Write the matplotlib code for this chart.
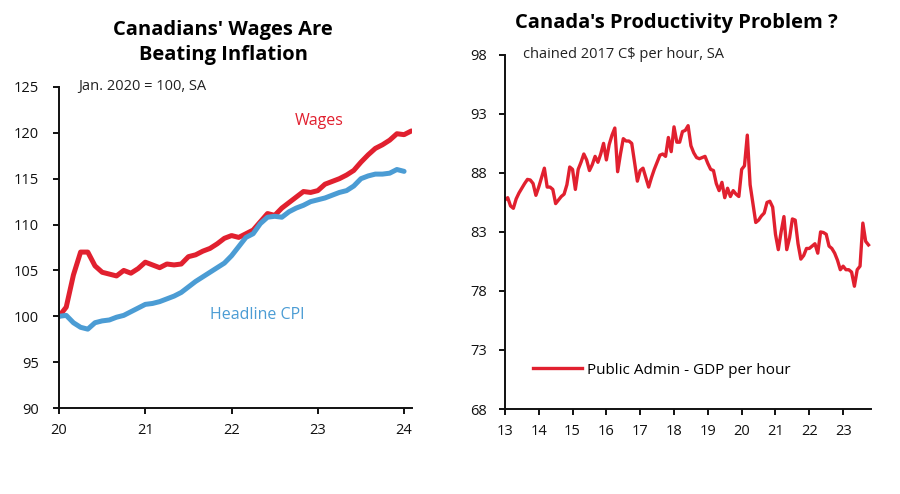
import numpy as np
import matplotlib
matplotlib.use("Agg")
import matplotlib.pyplot as plt

plt.rcParams['font.family'] = ['Open Sans', 'DejaVu Sans']

# left chart: monthly, Jan 2020 = 100
wages = [100.0, 101.0, 104.5, 107.0, 107.0, 105.5, 104.8, 104.6, 104.4, 105.0,
         104.7, 105.2, 105.9, 105.6, 105.3, 105.7, 105.6, 105.7, 106.5, 106.7,
         107.1, 107.4, 107.9, 108.5, 108.8, 108.6, 109.0, 109.4, 110.3, 111.2,
         111.0, 111.8, 112.4, 113.0, 113.6, 113.5, 113.7, 114.4, 114.7, 115.0,
         115.4, 115.9, 116.8, 117.6, 118.3, 118.7, 119.2, 119.9, 119.8, 120.2]
cpi = [100.0, 100.1, 99.3, 98.8, 98.6, 99.3, 99.5, 99.6, 99.9, 100.1,
       100.5, 100.9, 101.3, 101.4, 101.6, 101.9, 102.2, 102.6, 103.2, 103.8,
       104.3, 104.8, 105.3, 105.8, 106.6, 107.6, 108.6, 109.0, 110.1, 110.8,
       110.9, 110.8, 111.4, 111.8, 112.1, 112.5, 112.7, 112.9, 113.2, 113.5,
       113.7, 114.2, 115.0, 115.3, 115.5, 115.5, 115.6, 116.0, 115.8]
left_start = 20
left_xticks = [20, 21, 22, 23, 24]
left_yticks = [90, 95, 100, 105, 110, 115, 120, 125]

# right chart: public admin GDP per hour, monthly from Jan 2013
gdp_hour = [85.7, 85.9, 85.2, 85.0, 85.8, 86.3, 86.7, 87.1, 87.45, 87.4, 87.1, 86.1,
            86.8, 87.6, 88.4, 86.8, 86.8, 86.6, 85.4, 85.7, 86.0, 86.2, 87.0, 88.5,
            88.3, 86.6, 88.3, 88.9, 89.6, 89.1, 88.2, 88.7, 89.4, 88.9, 89.6, 90.5,
            89.1, 90.4, 91.2, 91.8, 88.1, 89.6, 90.9, 90.7, 90.7, 90.5, 88.9, 87.3,
            88.2, 88.4, 87.6, 86.8, 87.6, 88.3, 88.9, 89.5, 89.6, 89.4, 91.0, 89.8,
            91.9, 90.6, 90.6, 91.5, 91.6, 92.0, 90.3, 89.7, 89.3, 89.2, 89.3, 89.4,
            88.8, 88.3, 88.2, 87.1, 86.5, 87.2, 85.9, 86.7, 86.0, 86.5, 86.2, 86.0,
            88.3, 88.6, 91.2, 87.0, 85.4, 83.8, 84.0, 84.35, 84.6, 85.5, 85.6, 85.1,
            82.8, 81.5, 83.0, 84.3, 81.5, 82.5, 84.1, 84.0, 82.0, 80.7, 81.0, 81.6,
            81.6, 81.8, 82.0, 81.2, 83.0, 82.95, 82.8, 81.8, 81.6, 81.2, 80.6, 79.8,
            80.1, 79.8, 79.8, 79.6, 78.4, 79.8, 80.1, 83.75, 82.2, 81.9]
right_start = 13
right_xticks = list(range(13, 24))
right_yticks = [68, 73, 78, 83, 88, 93, 98]

red = '#e1202f'
blue = '#4b9cd4'

x_w = left_start + np.arange(len(wages)) / 12
x_c = left_start + np.arange(len(cpi)) / 12
x_g = right_start + np.arange(len(gdp_hour)) / 12

fig = plt.figure(figsize=(9, 4.94), dpi=100)
ax1 = fig.add_axes([0.0656, 0.174, 0.392, 0.650])
ax2 = fig.add_axes([0.561, 0.172, 0.407, 0.717])


def style(ax, ypad):
    for s in ['top', 'right']:
        ax.spines[s].set_visible(False)
    for s in ['left', 'bottom']:
        ax.spines[s].set_linewidth(1.4)
        ax.spines[s].set_color('#111111')
    ax.tick_params(axis='both', direction='out', length=4, width=1.4,
                   labelsize=10.5, colors='#111111')
    ax.tick_params(axis='y', pad=ypad)
    ax.tick_params(axis='x', pad=7)


ax1.plot(x_w, wages, color=red, lw=3.6, solid_capstyle='round')
ax1.plot(x_c, cpi, color=blue, lw=3.6, solid_capstyle='round')
ax1.set_xlim(20, 24.09)
ax1.set_ylim(90, 125)
ax1.set_xticks(left_xticks)
ax1.set_xticklabels([str(t) for t in left_xticks])
ax1.set_yticks(left_yticks)
style(ax1, 10.5)
ax1.text(0.055, 1.0, 'Jan. 2020 = 100, SA', transform=ax1.transAxes,
         fontsize=10.5, va='center', ha='left', color='#222222')
ax1.text(22.73, 121.3, 'Wages', color=red, fontsize=11.5, ha='left', va='center')
ax1.text(21.75, 100.1, 'Headline CPI', color=blue, fontsize=11.5, ha='left', va='center')
fig.text(0.248, 0.914, "Canadians' Wages Are\nBeating Inflation", ha='center',
         va='center', fontsize=14.5, fontweight='bold', linespacing=1.3)

ax2.plot(x_g, gdp_hour, color=red, lw=2.4, label='Public Admin - GDP per hour')
ax2.set_xlim(13, 23.83)
ax2.set_ylim(68, 98)
ax2.set_xticks(right_xticks)
ax2.set_xticklabels([str(t) for t in right_xticks])
ax2.set_yticks(right_yticks)
style(ax2, 9)
ax2.text(0.05, 1.0, 'chained 2017 C$ per hour, SA', transform=ax2.transAxes,
         fontsize=10.5, va='center', ha='left', color='#222222')
ax2.legend(loc='lower left', bbox_to_anchor=(0.04, 0.05), frameon=False,
           fontsize=11, handlelength=3.2, handletextpad=0.3)
fig.text(0.751, 0.953, "Canada's Productivity Problem ?", ha='center',
         va='center', fontsize=14.5, fontweight='bold')

fig.savefig('out.png', dpi=100)
